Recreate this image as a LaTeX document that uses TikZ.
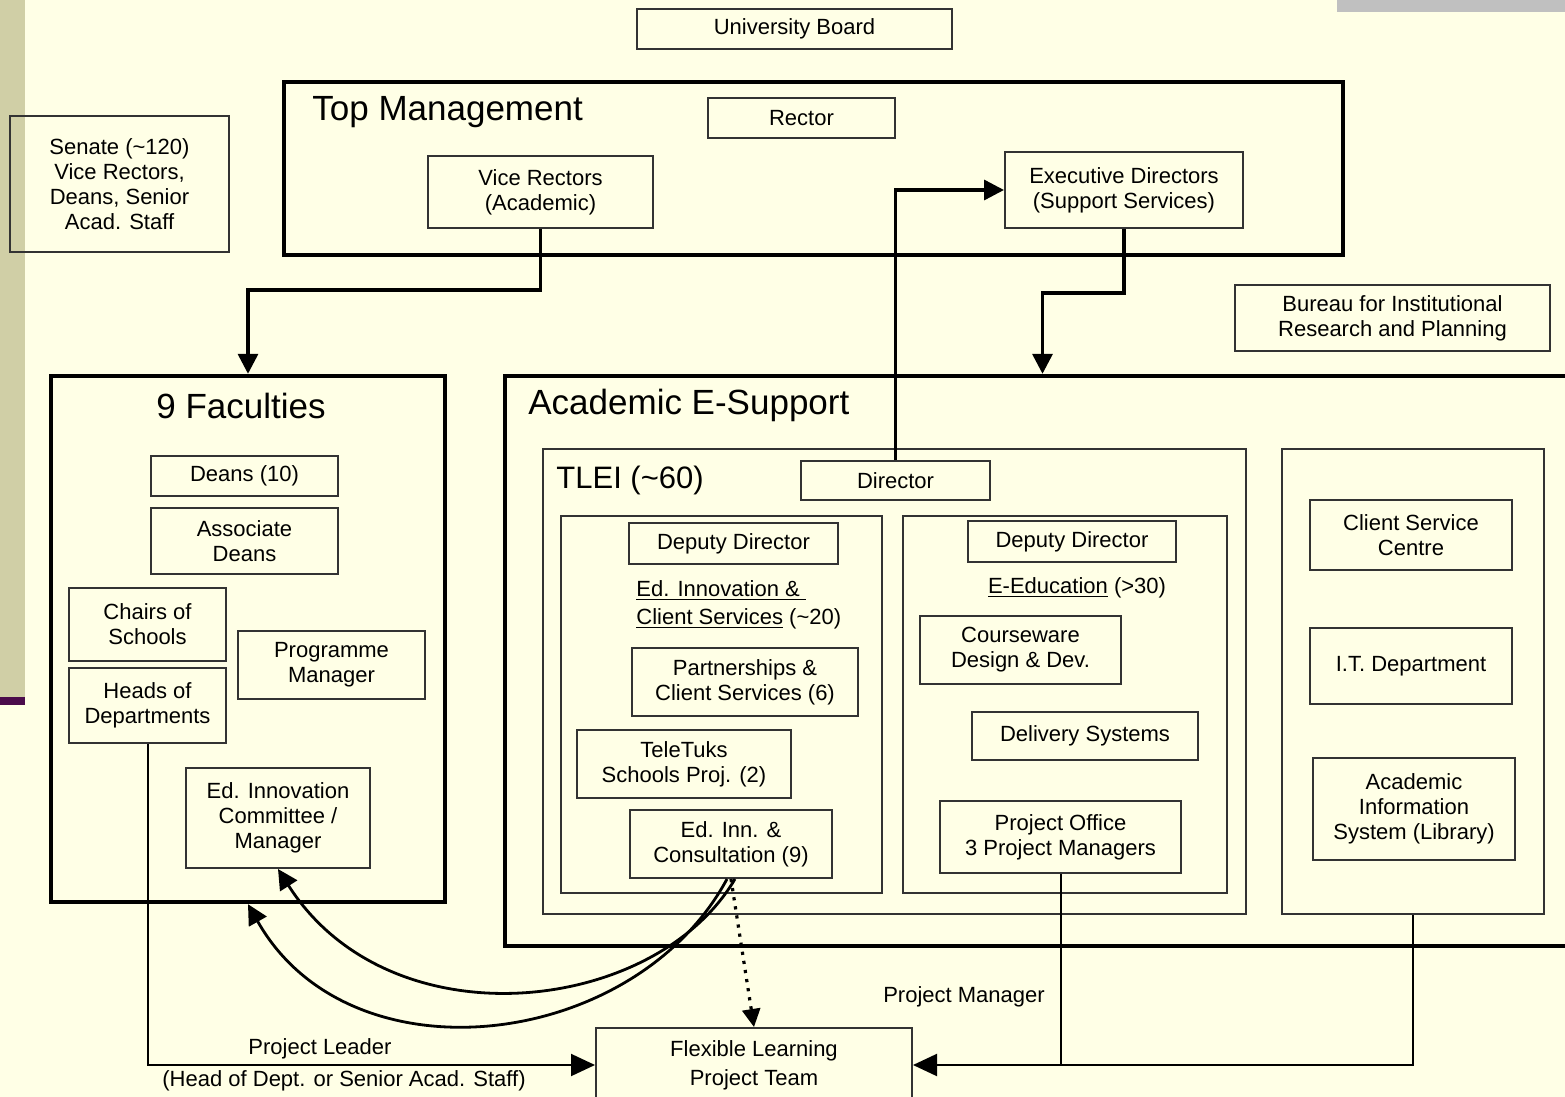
\documentclass[tikz,border=0pt]{standalone}
\usepackage{fontspec}
\setmainfont{Liberation Sans}
\usetikzlibrary{arrows.meta}
\definecolor{cream}{RGB}{255,255,230}
\definecolor{khaki}{RGB}{208,207,166}
\definecolor{plum}{RGB}{75,12,75}
\definecolor{bargray}{RGB}{192,192,192}
\tikzset{
  box/.style 2 args={draw=black!80, line width=1pt, align=center, inner sep=0pt,
    minimum width=#1*0.5pt, minimum height=#2*0.5pt, font=\fontsize{11}{12.5}\selectfont},
  frame/.style 2 args={draw=black, line width=2.2pt, inner sep=0pt,
    minimum width=#1*0.5pt, minimum height=#2*0.5pt},
  title/.style={anchor=west, inner sep=0pt, font=\fontsize{17.5}{20}\selectfont},
  lbl/.style={inner sep=0pt, font=\fontsize{11}{12.5}\selectfont},
  link/.style={line width=1.7pt, -{Triangle[length=10pt,width=10pt]}},
  thinlink/.style={line width=1pt},
  curvelink/.style={line width=1.4pt, -{Triangle[length=10pt,width=10pt]}},
  dotlink/.style={line width=1.6pt, dash pattern=on 1.6pt off 3pt, -{Triangle[length=9pt,width=9pt]}},
}

\begin{document}
\begin{tikzpicture}[x=0.5pt,y=-0.5pt]
  %%%%% START %%%%%
  \useasboundingbox (0,0) rectangle (1565,1097);
  \clip (0,0) rectangle (1565,1097);
  \fill[cream] (0,0) rectangle (1565,1097);
  \fill[khaki] (0,0) rectangle (25,697);
  \fill[plum] (0,697) rectangle (25,705);
  \fill[bargray] (1337,0) rectangle (1565,12);

  % top
  \node[box={315}{40}] (board) at (794.5,29) {University Board};
  \node[box={219}{135}] (senate) at (119.5,184) {Senate (\textasciitilde120)\\Vice Rectors,\\Deans, Senior\\Acad. Staff};
  \node[frame={1059}{173}] (topmgmt) at (813.5,168.5) {};
  \node[title] (tmtitle) at (312,112) {Top Management};
  \node[box={187}{40}] (rector) at (801.5,118) {Rector};
  \node[box={225}{72}] (vicerect) at (540.5,192) {Vice Rectors\\(Academic)};
  \node[box={238}{76}] (execdir) at (1124,190) {Executive Directors\\(Support Services)};
  \node[box={315}{66}] (bureau) at (1392.5,318) {Bureau for Institutional\\Research and Planning};

  % faculties
  \node[frame={394}{526}] (faculties) at (248,639) {};
  \node[title, anchor=center] (factitle) at (241,406) {9 Faculties};
  \node[box={187}{40}] (deans) at (244.5,476) {Deans (10)};
  \node[box={187}{66}] (assoc) at (244.5,541) {Associate\\Deans};
  \node[box={157}{73}] (chairs) at (147.5,624.5) {Chairs of\\Schools};
  \node[box={157}{75}] (heads) at (147.5,705.5) {Heads of\\Departments};
  \node[box={187}{68}] (progmgr) at (331.5,665) {Programme\\Manager};
  \node[box={184}{100}] (edcomm) at (278,818) {Ed. Innovation\\Committee /\\Manager};

  % academic e-support
  \node[frame={1075}{570}] (esupport) at (1042.5,661) {};
  \node[title] (estitle) at (528,405) {Academic E-Support};
  \node[box={703}{465}] (tlei) at (894.5,681.5) {};
  \node[title, font=\fontsize{15.5}{18}\selectfont] (tleititle) at (556,480) {TLEI (\textasciitilde60)};
  \node[box={189}{39}] (director) at (895.5,480.5) {Director};

  \node[box={321}{377}] (leftin) at (721.5,704.5) {};
  \node[box={209}{41}] (dd1) at (733.5,543.5) {Deputy Director};
  \node[lbl, anchor=west, align=left, font=\fontsize{11}{14}\selectfont] (edics) at (636,605)
    {\underline{Ed. Innovation \& }\\\underline{Client Services} (\textasciitilde20)};
  \node[box={226}{68}] (partner) at (745,682) {Partnerships \&\\Client Services (6)};
  \node[box={214}{68}] (teletuks) at (684,764) {TeleTuks\\Schools Proj. (2)};
  \node[box={202}{68}] (edinn) at (731,844) {Ed. Inn. \&\\Consultation (9)};

  \node[box={324}{377}] (rightin) at (1065,704.5) {};
  \node[box={208}{41}] (dd2) at (1072,541.5) {Deputy Director};
  \node[lbl] (eedu) at (1077,588) {\underline{E-Education} (>30)};
  \node[box={201}{68}] (courseware) at (1020.5,650) {Courseware\\Design \& Dev.};
  \node[box={226}{48}] (delivery) at (1085,736) {Delivery Systems};
  \node[box={241}{72}] (projoffice) at (1060.5,837) {Project Office\\3 Project Managers};

  \node[box={262}{465}] (rightcol) at (1413,681.5) {};
  \node[box={202}{70}] (csc) at (1411,535) {Client Service\\Centre};
  \node[box={202}{76}] (itdept) at (1411,666) {I.T. Department};
  \node[box={202}{102}] (ais) at (1414,809) {Academic\\Information\\System (Library)};

  % project team
  \node[box={316}{74}, font=\fontsize{11}{14.5}\selectfont] (flex) at (754,1065) {Flexible Learning\\Project Team};

  % connectors
  \draw[link] (vicerect.south) -- ++(0,61) -| (faculties.north);
  \draw[link] (execdir.south) -- ++(0,64) -| (esupport.north);
  \draw[link] (director.north) |- (execdir.west);

  \draw[thinlink, -{Triangle[length=12pt,width=11pt]}] (heads.south) |- (flex.west);
  \node[lbl] (pleader) at (320,1049) {Project Leader};
  \node[lbl] (pleadernote) at (344,1081) {(Head of Dept. or Senior Acad. Staff)};

  \draw[thinlink] (projoffice.south) -- (projoffice.south |- flex.east);
  \draw[thinlink, -{Triangle[length=12pt,width=11pt]}] (rightcol.south) |- (flex.east);
  \node[lbl] (pmanager) at (964,997) {Project Manager};

  \draw[dotlink] (edinn.south) -- (flex.north);
  \draw[curvelink] ([xshift=2pt]edinn.south) .. controls (655,1015) and (390,1045) .. (edcomm.south);
  \draw[curvelink] ([xshift=-2pt]edinn.south) .. controls (635,1050) and (350,1085) .. (faculties.south);
  %%%%% END %%%%%
\end{tikzpicture}
\end{document}
